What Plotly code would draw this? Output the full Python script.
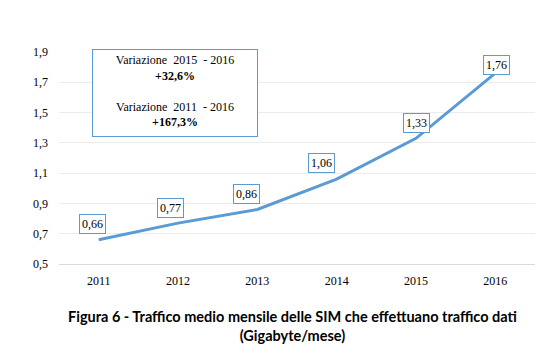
import plotly.graph_objects as go

years = ["2011", "2012", "2013", "2014", "2015", "2016"]
traffic = [0.66, 0.77, 0.86, 1.06, 1.33, 1.76]
value_labels = ["0,66", "0,77", "0,86", "1,06", "1,33", "1,76"]
y_ticks = [0.5, 0.7, 0.9, 1.1, 1.3, 1.5, 1.7, 1.9]
y_tick_labels = ["0,5", "0,7", "0,9", "1,1", "1,3", "1,5", "1,7", "1,9"]

# label placement styles (pixel shifts)
label_dx = [-6, -8, -11, -15, 0, 1]
label_dy = [16, 15, 15, 16, 15, 8]

blue = "#5b9bd5"
serif = "Liberation Serif, Times New Roman, serif"

xpos = list(range(len(years)))

# page body has an 8px default margin; plot area in figure pixels
L, T, PW, PH = 51, 44, 476, 212
FW, FH = 539, 354

fig = go.Figure()
fig.add_trace(go.Scatter(
    x=xpos, y=traffic, mode="lines",
    line=dict(color=blue, width=3),
    hoverinfo="skip", showlegend=False,
))

for xi, v, t, dx, dy in zip(xpos, traffic, value_labels, label_dx, label_dy):
    fig.add_annotation(
        x=xi, y=v, xref="x", yref="y", text=t, showarrow=False,
        xshift=dx, yshift=dy,
        font=dict(family=serif, size=12, color="#000000"),
        bgcolor="white", bordercolor=blue, borderwidth=1, borderpad=2,
    )

fig.add_annotation(
    xref="paper", yref="paper", x=(84 - L) / PW, y=(T + PH - 41) / PH,
    xanchor="left", yanchor="top", showarrow=False,
    text="Variazione  2015  - 2016<br><b>+32,6%</b><br> <br>Variazione  2011  - 2016<br><b>+167,3%</b>",
    align="center", valign="top",
    width=158, height=80, borderpad=3,
    font=dict(family=serif, size=12, color="#000000"),
    bgcolor="white", bordercolor=blue, borderwidth=1,
)

fig.add_annotation(
    xref="paper", yref="paper", x=(284 - L) / PW, y=(T + PH - 298) / PH,
    xanchor="center", yanchor="top", showarrow=False,
    text="<b>Figura 6 - Traffico medio mensile delle SIM che effettuano traffico dati</b><br><b>(Gigabyte/mese)</b>",
    align="center",
    font=dict(family="Lato, Carlito, sans-serif", size=14.5, color="#000000"),
)

fig.update_layout(
    width=FW, height=FH,
    margin=dict(l=L, r=FW - L - PW, t=T, b=FH - T - PH),
    paper_bgcolor="white", plot_bgcolor="white",
    xaxis=dict(
        range=[-0.5, len(years) - 0.5], tickvals=xpos, ticktext=years,
        showgrid=False, showline=True, zeroline=False,
        linecolor="#d9d9d9", linewidth=1, ticks="",
        ticklabelstandoff=6,
        tickfont=dict(family=serif, size=12, color="#000000"),
        fixedrange=True,
    ),
    yaxis=dict(
        range=[0.5, 1.9], tickvals=y_ticks, ticktext=y_tick_labels,
        showgrid=True, gridcolor="#ececec", gridwidth=1,
        zeroline=False, showline=False, ticks="",
        ticklabelstandoff=10,
        tickfont=dict(family=serif, size=12, color="#000000"),
        fixedrange=True,
    ),
)

fig.write_html("out.html")
